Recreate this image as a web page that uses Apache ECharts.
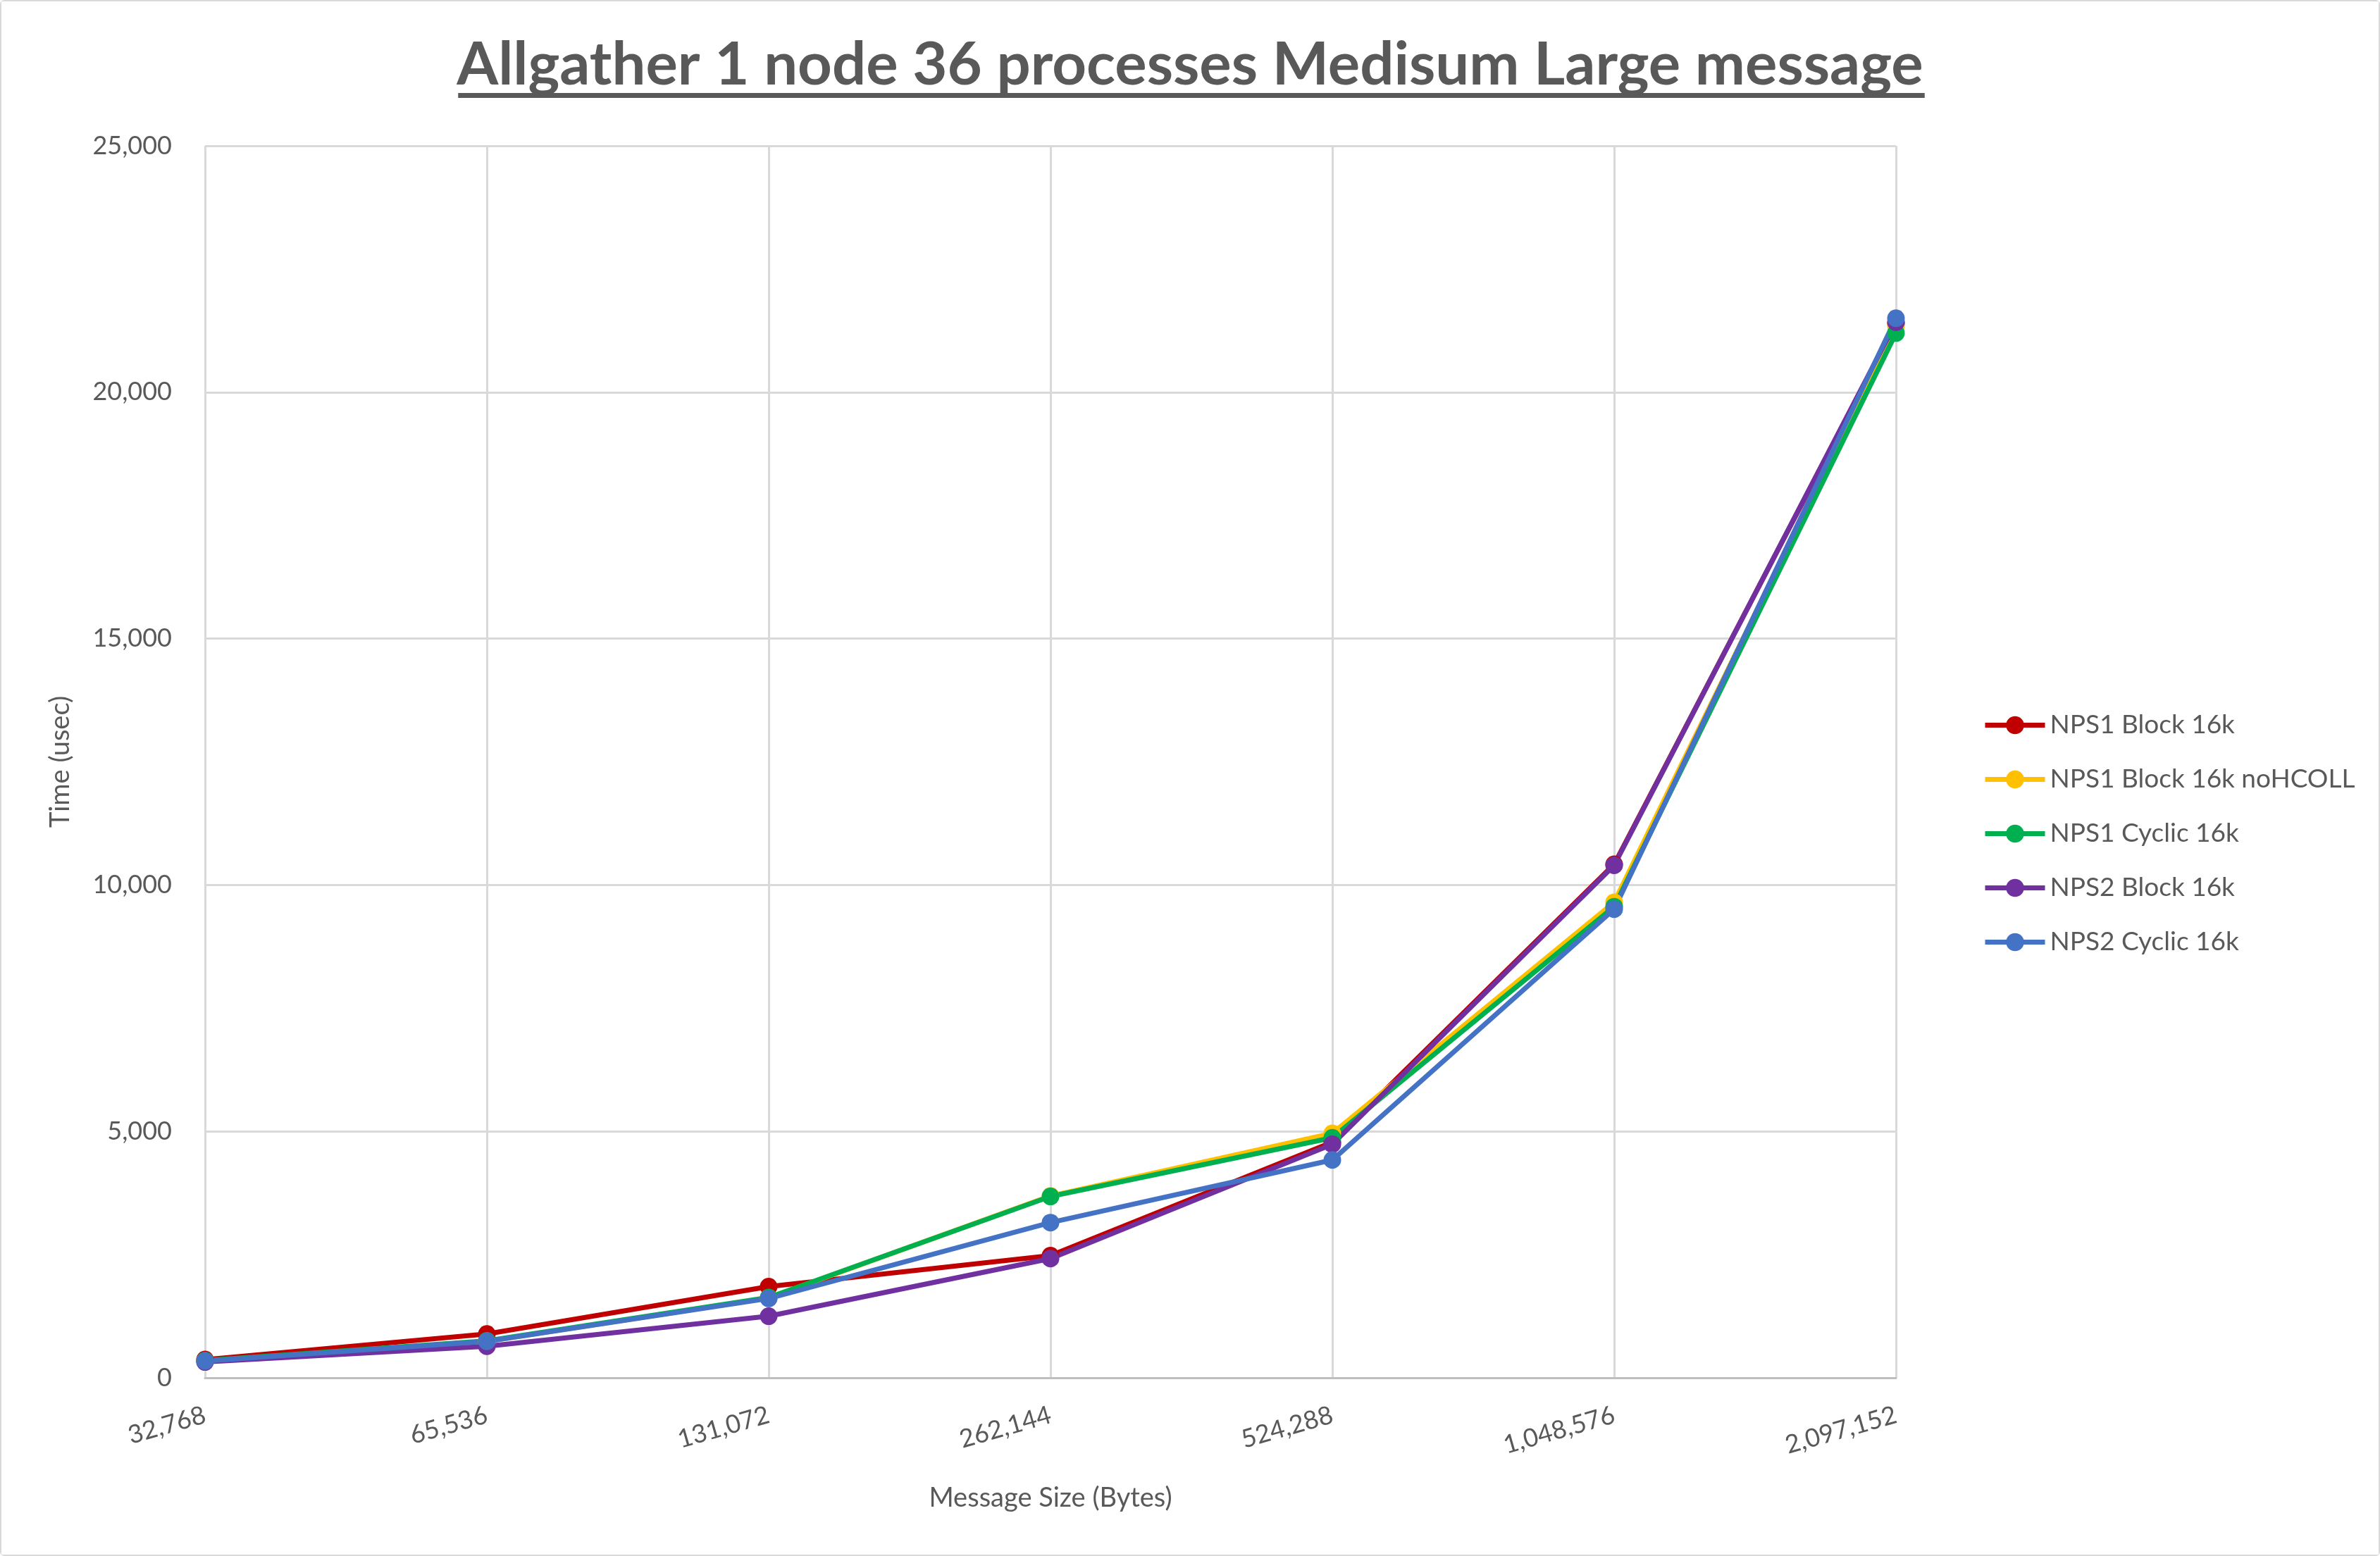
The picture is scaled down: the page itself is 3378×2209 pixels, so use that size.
<!DOCTYPE html>
<html>
<head>
<meta charset="utf-8">
<script src="https://cdn.jsdelivr.net/npm/echarts@6/dist/echarts.min.js"></script>
<style>
html,body{margin:0;padding:0;background:#fff;}
#c{width:3378px;height:2209px;box-sizing:border-box;border:2px solid #d9d9d9;border-radius:6px;}
</style>
</head>
<body>
<div id="c"></div>
<script>
const titleText = 'Allgather 1 node 36 processes Medisum Large message';
const categories = ['32,768','65,536','131,072','262,144','524,288','1,048,576','2,097,152'];
const seriesNames = ['NPS1 Block 16k','NPS1 Block 16k noHCOLL','NPS1 Cyclic 16k','NPS2 Block 16k','NPS2 Cyclic 16k'];
const nps1Block = [370, 890, 1850, 2480, 4780, 10420, 21400];
const nps1BlockNoHcoll = [340, 740, 1620, 3690, 4960, 9650, 21350];
const nps1Cyclic = [350, 750, 1630, 3680, 4870, 9560, 21200];
const nps2Block = [320, 640, 1250, 2420, 4740, 10400, 21420];
const nps2Cyclic = [340, 740, 1610, 3150, 4420, 9510, 21500];
const yTicks = [0, 5000, 10000, 15000, 20000, 25000];

const colors = ['#C00000','#FFC000','#00B050','#7030A0','#4472C4'];
const values = [nps1Block, nps1BlockNoHcoll, nps1Cyclic, nps2Block, nps2Cyclic];
const FONT = 'Lato, "Open Sans", sans-serif';
const TXT = '#595959';

const titleSize = 85;
const cv = document.createElement('canvas').getContext('2d');
cv.font = 'bold ' + titleSize + 'px Lato';
const tw = cv.measureText(titleText).width;
const cx = 1689;

const chart = echarts.init(document.getElementById('c'), null, {renderer:'canvas'});
chart.setOption({
  animation: false,
  backgroundColor: '#fff',
  color: colors,
  title: {
    text: titleText,
    left: 'center',
    top: 43,
    textStyle: {fontFamily: FONT, fontWeight: 'bold', fontSize: titleSize, color: TXT}
  },
  graphic: [{
    type: 'rect',
    shape: {x: cx - tw/2, y: 130, width: tw, height: 7},
    style: {fill: TXT}
  }],
  grid: {left: 289, right: 685, top: 205, bottom: 251, containLabel: false},
  legend: {
    orient: 'vertical',
    left: 2807,
    top: 1004,
    itemWidth: 85,
    itemHeight: 32,
    itemGap: 40,
    lineStyle: {width: 7},
    textStyle: {fontFamily: FONT, fontSize: 37, color: TXT, padding: [0,0,0,2]},
    data: seriesNames
  },
  xAxis: {
    type: 'category',
    data: categories,
    boundaryGap: false,
    name: 'Message Size (Bytes)',
    nameLocation: 'middle',
    nameGap: 152,
    nameTextStyle: {fontFamily: FONT, fontSize: 38, color: TXT},
    axisLine: {lineStyle: {color: '#bfbfbf', width: 3}},
    axisTick: {show: false},
    axisLabel: {rotate: 16, margin: 52, fontFamily: FONT, fontSize: 36, color: TXT},
    splitLine: {show: true, lineStyle: {color: '#d9d9d9', width: 3}}
  },
  yAxis: {
    type: 'value',
    min: yTicks[0],
    max: yTicks[yTicks.length-1],
    interval: yTicks[1] - yTicks[0],
    name: 'Time (usec)',
    nameLocation: 'middle',
    nameGap: 186,
    nameTextStyle: {fontFamily: FONT, fontSize: 38, color: TXT},
    axisLine: {show: false},
    axisTick: {show: false},
    axisLabel: {margin: 47, fontFamily: FONT, fontSize: 36, color: TXT,
      formatter: v => v.toLocaleString('en-US')},
    splitLine: {lineStyle: {color: '#d9d9d9', width: 3}}
  },
  series: seriesNames.map((n, i) => ({
    name: n,
    type: 'line',
    data: values[i],
    symbol: 'circle',
    symbolSize: 25,
    lineStyle: {width: 7, color: colors[i]},
    itemStyle: {color: colors[i]},
    emphasis: {disabled: true}
  }))
});
</script>
</body>
</html>
